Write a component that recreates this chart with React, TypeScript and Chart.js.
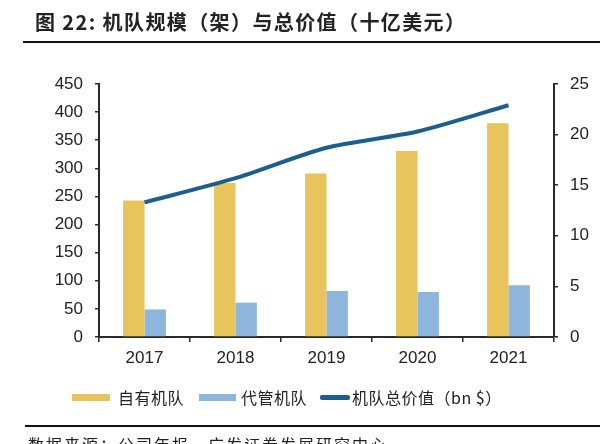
import React, { useEffect, useRef } from "react";
import { Chart, registerables } from "chart.js";

Chart.register(...registerables);

const years = ["2017", "2018", "2019", "2020", "2021"];
const ownedFleet = [243, 274, 291, 331, 380];
const managedFleet = [49, 61, 82, 80, 92];
const fleetValue = [13.3, 15.7, 18.7, 20.3, 22.9];
const leftTicks = [0, 50, 100, 150, 200, 250, 300, 350, 400, 450];
const rightTicks = [0, 5, 10, 15, 20, 25];

const titleText = "图 22: 机队规模（架）与总价值（十亿美元）";
const sourceText = "数据来源：公司年报，广发证券发展研究中心";
const legendLabels = ["自有机队", "代管机队", "机队总价值（bn $）"];

const YELLOW = "#E8C45C";
const BLUE = "#8EB5DC";
const LINE = "#1E5E8E";
const AXIS = "#2a2a2a";
const TICKFONT = "'Liberation Sans', Arial, sans-serif";
const CJK = "'Noto Sans CJK SC', sans-serif";

const legendItems = [
  { label: legendLabels[0], color: YELLOW, w: 38, h: 7, gapBefore: 0, gapAfter: 8 },
  { label: legendLabels[1], color: BLUE, w: 37, h: 7, gapBefore: 15, gapAfter: 5 },
  { label: legendLabels[2], color: LINE, w: 30, h: 5, gapBefore: 13, gapAfter: 2 },
];

export default function App() {
  const ref = useRef<HTMLCanvasElement | null>(null);

  useEffect(() => {
    if (!ref.current) return;
    const chart = new Chart(ref.current, {
      type: "bar",
      data: {
        labels: years,
        datasets: [
          {
            type: "bar",
            label: legendLabels[0],
            data: ownedFleet,
            backgroundColor: YELLOW,
            borderWidth: 0,
            yAxisID: "y",
            order: 2,
            categoryPercentage: 0.47,
            barPercentage: 1,
          },
          {
            type: "bar",
            label: legendLabels[1],
            data: managedFleet,
            backgroundColor: BLUE,
            borderWidth: 0,
            yAxisID: "y",
            order: 2,
            categoryPercentage: 0.47,
            barPercentage: 1,
          },
          {
            type: "line",
            label: legendLabels[2],
            data: fleetValue,
            borderColor: LINE,
            backgroundColor: LINE,
            borderWidth: 4,
            pointRadius: 0,
            tension: 0.25,
            yAxisID: "y1",
            order: 0,
          } as any,
        ],
      },
      options: {
        responsive: false,
        animation: false,
        layout: { padding: { top: 84, left: 0, right: 0, bottom: 70 } },
        plugins: {
          tooltip: { enabled: false },
          title: { display: false },
          legend: { display: false },
        },
        scales: {
          x: {
            offset: true,
            grid: {
              display: true,
              drawOnChartArea: false,
              drawTicks: true,
              tickLength: 5,
              color: AXIS,
              lineWidth: 1.5,
              offset: true,
            },
            border: { display: true, color: AXIS, width: 2 },
            ticks: {
              color: "#222",
              font: { family: TICKFONT, size: 17 },
              padding: 6,
            },
            afterFit: (s: any) => {
              s.height = 37;
            },
          },
          y: {
            position: "left",
            min: 0,
            max: 450,
            afterBuildTicks: (s: any) => {
              s.ticks = leftTicks.map((v) => ({ value: v }));
            },
            grid: {
              display: true,
              drawOnChartArea: false,
              drawTicks: true,
              tickLength: 4,
              color: AXIS,
              lineWidth: 1.5,
            },
            border: { display: true, color: AXIS, width: 2 },
            ticks: {
              color: "#222",
              font: { family: TICKFONT, size: 17 },
              padding: 12,
            },
            afterFit: (s: any) => {
              s.width = 99;
            },
          },
          y1: {
            position: "right",
            min: 0,
            max: 25,
            afterBuildTicks: (s: any) => {
              s.ticks = rightTicks.map((v) => ({ value: v }));
            },
            grid: {
              display: true,
              drawOnChartArea: false,
              drawTicks: true,
              tickLength: 4,
              color: AXIS,
              lineWidth: 1.5,
            },
            border: { display: true, color: AXIS, width: 2 },
            ticks: {
              color: "#222",
              font: { family: TICKFONT, size: 17 },
              padding: 12,
            },
            afterFit: (s: any) => {
              s.width = 46;
            },
          },
        },
      },
    });
    return () => chart.destroy();
  }, []);

  return (
    <div
      style={{
        position: "absolute",
        left: 0,
        top: 0,
        width: 600,
        height: 444,
        overflow: "hidden",
        background: "#fff",
      }}
    >
      <canvas
        ref={ref}
        width={600}
        height={444}
        style={{ position: "absolute", left: 0, top: 0, width: 600, height: 444 }}
      />
      <div
        style={{
          position: "absolute",
          left: 35,
          top: 10,
          fontFamily: CJK,
          fontWeight: 700,
          fontSize: 20,
          letterSpacing: 1.4,
          color: "#222",
          whiteSpace: "nowrap",
          lineHeight: "24px",
        }}
      >
        {titleText}
      </div>
      <div
        style={{
          position: "absolute",
          left: 23,
          top: 41,
          width: 577,
          height: 2,
          background: "#111",
        }}
      />
      <div
        style={{
          position: "absolute",
          left: 72,
          top: 385,
          height: 24,
          display: "flex",
          alignItems: "center",
          fontFamily: CJK,
          fontSize: 16,
          color: "#222",
          whiteSpace: "nowrap",
        }}
      >
        {legendItems.map((it, i) => (
          <React.Fragment key={i}>
            <span
              style={{
                display: "inline-block",
                marginLeft: it.gapBefore,
                marginRight: it.gapAfter,
                width: it.w,
                height: it.h,
                background: it.color,
                borderRadius: i === 2 ? 2 : 0,
              }}
            />
            <span style={{ letterSpacing: 0.5 }}>{it.label}</span>
          </React.Fragment>
        ))}
      </div>
      <div
        style={{
          position: "absolute",
          left: 25,
          top: 425,
          width: 575,
          height: 2,
          background: "#111",
        }}
      />
      <div
        style={{
          position: "absolute",
          left: 28,
          top: 433,
          fontFamily: CJK,
          fontSize: 16,
          letterSpacing: 2,
          color: "#222",
          whiteSpace: "nowrap",
          lineHeight: "22px",
        }}
      >
        {sourceText}
      </div>
    </div>
  );
}
